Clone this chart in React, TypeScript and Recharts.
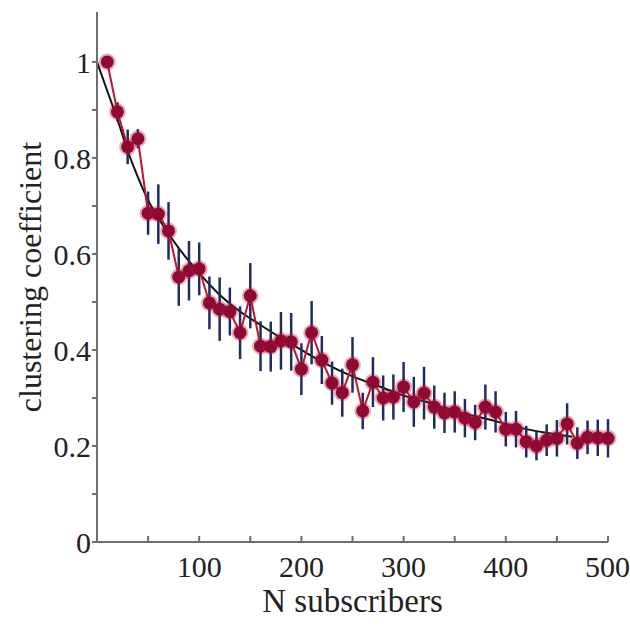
import { ComposedChart, Line, XAxis, YAxis, ErrorBar } from 'recharts';

// N subscribers (x positions of measured points)
const subscribers = [
  10, 20, 30, 40, 50, 60, 70, 80, 90, 100,
  110, 120, 130, 140, 150, 160, 170, 180, 190, 200,
  210, 220, 230, 240, 250, 260, 270, 280, 290, 300,
  310, 320, 330, 340, 350, 360, 370, 380, 390, 400,
  410, 420, 430, 440, 450, 460, 470, 480, 490, 500,
];

const clustering = [
  1.0, 0.896, 0.823, 0.84, 0.685, 0.683, 0.648, 0.552, 0.565, 0.569,
  0.498, 0.485, 0.48, 0.436, 0.513, 0.408, 0.407, 0.419, 0.417, 0.36,
  0.436, 0.379, 0.331, 0.311, 0.369, 0.273, 0.333, 0.3, 0.302, 0.323,
  0.292, 0.31, 0.281, 0.269, 0.271, 0.258, 0.249, 0.281, 0.271, 0.235,
  0.235, 0.209, 0.2, 0.212, 0.216, 0.246, 0.206, 0.218, 0.217, 0.216,
];

const errors = [
  0.008, 0.02, 0.036, 0.02, 0.045, 0.062, 0.06, 0.06, 0.062, 0.055,
  0.055, 0.066, 0.05, 0.055, 0.068, 0.052, 0.052, 0.06, 0.06, 0.054,
  0.066, 0.05, 0.045, 0.05, 0.058, 0.038, 0.052, 0.047, 0.047, 0.052,
  0.052, 0.055, 0.045, 0.042, 0.043, 0.04, 0.037, 0.047, 0.043, 0.036,
  0.038, 0.033, 0.03, 0.033, 0.038, 0.043, 0.033, 0.035, 0.038, 0.04,
];

// fitted curve
const fitX = [0, 10, 20, 30, 40, 50, 60, 70, 80, 90, 100, 120, 140, 160, 180, 200, 225, 250, 275, 300, 325, 350, 375, 400, 425, 450, 465];
const fitY = [1.0, 0.94, 0.88, 0.815, 0.76, 0.712, 0.675, 0.642, 0.612, 0.585, 0.56, 0.515, 0.48, 0.452, 0.425, 0.4, 0.37, 0.345, 0.325, 0.305, 0.29, 0.272, 0.26, 0.246, 0.233, 0.224, 0.219];

const xTicks = [50, 100, 150, 200, 250, 300, 350, 400, 450, 500];
const yTicks = [0, 0.1, 0.2, 0.3, 0.4, 0.5, 0.6, 0.7, 0.8, 0.9, 1.0];

const data = subscribers.map((n, i) => ({ n, c: clustering[i], err: errors[i] }));
const fitData = fitX.map((n, i) => ({ n, fit: fitY[i] }));

const FONT = "'Liberation Serif', 'Times New Roman', serif";
const AXIS = '#6f6f6f';
const tickStyle = { fill: '#222', fontSize: 30, fontFamily: FONT };

const Dot = (props: any) => {
  const { cx, cy } = props;
  if (cx == null || cy == null) return null;
  return (
    <g>
      <circle cx={cx} cy={cy} r={8.5} fill="#c0143c" fillOpacity={0.35} />
      <circle cx={cx} cy={cy} r={6.5} fill="#8e0a33" />
    </g>
  );
};

export default function App() {
  return (
    <div style={{ position: 'absolute', left: 0, top: 0, width: 630, height: 628, background: '#fff' }}>
      <ComposedChart width={630} height={628} data={data} margin={{ top: 12, right: 22, left: 0, bottom: 0 }}>
        <XAxis
          dataKey="n"
          type="number"
          domain={[0, 500]}
          ticks={xTicks}
          tickFormatter={(v) => (v % 100 === 0 ? String(v) : '')}
          height={86}
          stroke={AXIS}
          strokeWidth={2}
          tickSize={-6}
          tickMargin={20}
          tick={tickStyle}
          label={{ value: 'N subscribers', position: 'insideBottom', offset: 16, style: { fill: '#222', fontSize: 33, fontFamily: FONT } }}
        />
        <XAxis xAxisId="top" orientation="top" type="number" domain={[0, 500]} height={0} tick={false} tickLine={false} stroke={AXIS} strokeWidth={2} />
        <YAxis
          type="number"
          domain={[0, 1.104]}
          ticks={yTicks}
          tickFormatter={(v) => {
            const r = Math.round(v * 10);
            return r % 2 === 0 ? (r === 10 ? '1' : r === 0 ? '0' : String(r / 10)) : '';
          }}
          width={97}
          stroke={AXIS}
          strokeWidth={2}
          tickSize={5}
          tickMargin={1}
          tick={tickStyle}
          allowDataOverflow
          label={{ value: 'clustering coefficient', angle: -90, position: 'insideLeft', offset: 30, style: { textAnchor: 'middle', fill: '#222', fontSize: 32, fontFamily: FONT } }}
        />
        <YAxis yAxisId="right" orientation="right" width={0} domain={[0, 1.104]} tick={false} tickLine={false} stroke={AXIS} strokeWidth={2} />
        <Line
          data={fitData}
          dataKey="fit"
          type="monotone"
          stroke="#111"
          strokeWidth={2}
          dot={false}
          isAnimationActive={false}
        />
        <Line
          dataKey="c"
          type="linear"
          stroke="#c8102e"
          strokeWidth={2}
          dot={<Dot />}
          isAnimationActive={false}
        >
          <ErrorBar dataKey="err" direction="y" width={0} stroke="#1f2d5c" strokeWidth={2.5} />
        </Line>
      </ComposedChart>
    </div>
  );
}
